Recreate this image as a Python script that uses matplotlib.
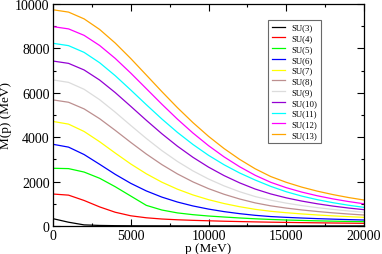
import numpy as np
import matplotlib
matplotlib.use("Agg")
import matplotlib.pyplot as plt

# momentum grid (MeV) and M(p) curves (MeV)
p = np.arange(0, 20001, 1000)

su3 = [330, 170, 50, 25, 15, 10, 8, 7, 6, 5, 5, 4, 4, 4, 3, 3, 3, 3, 3, 3, 3]
su4 = [1440, 1390, 1150, 860, 620, 460, 370, 315, 280, 255, 235, 215, 200, 185, 172, 162, 152, 143, 135, 128, 120]
su5 = [2600, 2585, 2430, 2150, 1770, 1350, 930, 720, 590, 510, 450, 405, 362, 325, 295, 270, 250, 232, 218, 205, 195]
su6 = [3680, 3553, 3219, 2779, 2328, 1922, 1580, 1302, 1080, 903, 762, 648, 556, 481, 425, 389, 359, 332, 309, 288, 270]
su7 = [4710, 4589, 4258, 3796, 3287, 2794, 2353, 1974, 1659, 1399, 1186, 1012, 869, 751, 663, 598, 544, 497, 456, 421, 390]
su8 = [5680, 5574, 5275, 4833, 4310, 3766, 3243, 2766, 2347, 1987, 1683, 1429, 1217, 1041, 908, 807, 723, 653, 592, 540, 495]
su9 = [6580, 6470, 6158, 5690, 5128, 4530, 3944, 3397, 2909, 2482, 2117, 1807, 1545, 1326, 1164, 1030, 919, 826, 747, 678, 620]
su10 = [7430, 7326, 7029, 6574, 6010, 5391, 4762, 4156, 3596, 3094, 2653, 2271, 1944, 1665, 1445, 1268, 1122, 1000, 897, 810, 735]
su11 = [8230, 8124, 7821, 7354, 6772, 6127, 5465, 4821, 4218, 3672, 3185, 2759, 2389, 2071, 1786, 1543, 1347, 1185, 1050, 936, 840]
su12 = [8980, 8879, 8588, 8131, 7550, 6888, 6188, 5487, 4814, 4188, 3620, 3114, 2670, 2285, 1968, 1726, 1527, 1361, 1221, 1102, 1000]
su13 = [9740, 9635, 9330, 8853, 8242, 7544, 6801, 6054, 5332, 4657, 4040, 3489, 3002, 2578, 2229, 1968, 1751, 1569, 1415, 1283, 1170]

curves = [su3, su4, su5, su6, su7, su8, su9, su10, su11, su12, su13]
labels = ["SU(%d)" % n for n in range(3, 14)]
# grace default palette
colors = ["#000000", "#ff0000", "#00ff00", "#0000ff", "#ffff00", "#bc8f8f",
          "#dcdcdc", "#9400d3", "#00ffff", "#ff00ff", "#ffa500"]

plt.rcParams["font.family"] = "Liberation Serif"

fig = plt.figure(figsize=(3.82, 2.55), dpi=100)
ax = fig.add_axes([53 / 382, 1 - 227 / 255, 311 / 382, 222 / 255])

for y, c, lab in zip(curves, colors, labels):
    ax.plot(p, y, color=c, lw=0.9, label=lab)

ax.set_xlim(0, 20000)
ax.set_ylim(0, 10000)
ax.set_xticks(np.arange(0, 20001, 5000))
ax.set_xticks(np.arange(0, 20001, 2500), minor=True)
ax.set_yticks(np.arange(0, 10001, 2000))
ax.set_yticks(np.arange(0, 10001, 1000), minor=True)
ax.tick_params(which="both", direction="in", top=True, right=True,
               labelsize=10, width=0.8, pad=2.5)
ax.tick_params(which="major", length=5)
ax.tick_params(which="minor", length=2.5)
for s in ax.spines.values():
    s.set_linewidth(0.9)

ax.set_xlabel("p (MeV)", fontsize=9.5, labelpad=0)
ax.set_ylabel("M(p) (MeV)", fontsize=9.5, labelpad=2)

leg = ax.legend(loc="upper left", bbox_to_anchor=(268 / 382, 1 - 21 / 255),
                bbox_transform=fig.transFigure, fontsize=6.3, frameon=True,
                fancybox=False, edgecolor="#444444", handlelength=1.5,
                handletextpad=0.8, labelspacing=0.3, borderpad=0.4,
                borderaxespad=0)
leg.get_frame().set_linewidth(0.8)

fig.savefig("out.png", dpi=100)
